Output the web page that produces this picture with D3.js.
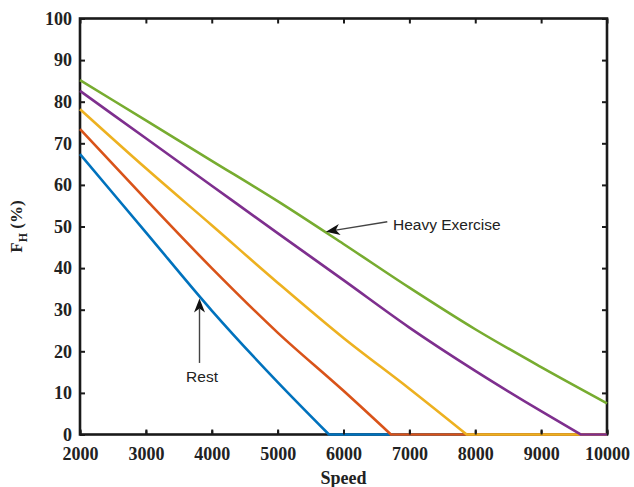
<!DOCTYPE html>
<html>
<head>
<meta charset="utf-8">
<script src="https://cdn.jsdelivr.net/npm/d3@7"></script>
<style>
  html, body { margin: 0; padding: 0; background: #fff; }
  svg { display: block; }
</style>
</head>
<body>
<svg id="chart" width="634" height="487"></svg>
<script>
// Fraction of heat-related output F_H (%) against speed, for five activity levels
const speedTicks = [2000, 3000, 4000, 5000, 6000, 7000, 8000, 9000, 10000];
const fhTicks = [0, 10, 20, 30, 40, 50, 60, 70, 80, 90, 100];

// Rest (lowest curve)
const restSpeed = [2000, 3000, 4000, 5000, 5780, 10000];
const restFH    = [67.4, 48.6, 29.8, 12.6, 0, 0];
// Light
const lightSpeed = [2000, 3000, 4000, 5000, 6000, 6720, 10000];
const lightFH    = [73.4, 56.5, 40.0, 24.5, 10.5, 0, 0];
// Moderate
const moderateSpeed = [2000, 3000, 4000, 5000, 6000, 7000, 7870, 10000];
const moderateFH    = [78.2, 64.0, 50.3, 36.5, 23.2, 11.0, 0, 0];
// Hard
const hardSpeed = [2000, 3000, 4000, 5000, 6000, 7000, 8000, 9000, 9600, 10000];
const hardFH    = [82.6, 71.2, 59.8, 48.4, 37.1, 25.7, 15.3, 5.6, 0, 0];
// Heavy exercise (highest curve)
const heavySpeed = [2000, 3000, 4000, 5000, 6000, 7000, 8000, 9000, 10000];
const heavyFH    = [85.2, 75.5, 65.8, 56.1, 45.8, 35.3, 25.3, 16.2, 7.5];

const seriesColors = ["#0072BD", "#D95319", "#EDB120", "#7E2F8E", "#77AC30"];

const svg = d3.select("#chart");
const plotLeft = 80, plotRight = 607, plotTop = 18.5, plotBottom = 434.5;

const x = d3.scaleLinear().domain([2000, 10000]).range([plotLeft, plotRight]);
const y = d3.scaleLinear().domain([0, 100]).range([plotBottom, plotTop]);

const tickFont = "'Liberation Serif', 'Times New Roman', serif";

// Frame box
svg.append("rect")
  .attr("x", plotLeft).attr("y", plotTop)
  .attr("width", plotRight - plotLeft).attr("height", plotBottom - plotTop)
  .attr("fill", "none").attr("stroke", "#1a1a1a").attr("stroke-width", 2.6);

// Axes with inward ticks, plus mirrored ticks on the top and right edges
function styleAxis(g) {
  g.select(".domain").remove();
  g.selectAll(".tick line").attr("stroke", "#1a1a1a").attr("stroke-width", 2);
  g.selectAll(".tick text")
    .attr("font-family", tickFont).attr("font-weight", "bold")
    .attr("font-size", 18).attr("fill", "#222");
}

svg.append("g").attr("transform", `translate(0,${plotBottom})`)
  .call(d3.axisBottom(x).tickValues(speedTicks).tickFormat(d3.format("d"))
    .tickSizeInner(-5).tickSizeOuter(0).tickPadding(13))
  .call(styleAxis);

svg.append("g").attr("transform", `translate(${plotLeft},0)`)
  .call(d3.axisLeft(y).tickValues(fhTicks).tickFormat(d3.format("d"))
    .tickSizeInner(-5).tickSizeOuter(0).tickPadding(8))
  .call(styleAxis);

svg.append("g").attr("transform", `translate(0,${plotTop})`)
  .call(d3.axisTop(x).tickValues(speedTicks).tickFormat("")
    .tickSizeInner(-5).tickSizeOuter(0))
  .call(styleAxis);

svg.append("g").attr("transform", `translate(${plotRight},0)`)
  .call(d3.axisRight(y).tickValues(fhTicks).tickFormat("")
    .tickSizeInner(-5).tickSizeOuter(0))
  .call(styleAxis);

// Curves: the falling part is smoothed, the part clipped at zero is kept straight
const smooth = d3.line()
  .x(d => x(d[0])).y(d => y(d[1]))
  .curve(d3.curveMonotoneX);

const series = [
  [restSpeed, restFH],
  [lightSpeed, lightFH],
  [moderateSpeed, moderateFH],
  [hardSpeed, hardFH],
  [heavySpeed, heavyFH]
];

series.forEach(([sp, fh], i) => {
  const pts = sp.map((s, k) => [s, fh[k]]);
  const zeroAt = fh.indexOf(0);
  const falling = zeroAt < 0 ? pts : pts.slice(0, zeroAt + 1);
  const flat = zeroAt < 0 ? [] : pts.slice(zeroAt + 1);
  let d = smooth(falling);
  flat.forEach(p => { d += `L${x(p[0])},${y(p[1])}`; });
  svg.append("path")
    .attr("d", d)
    .attr("fill", "none")
    .attr("stroke", seriesColors[i])
    .attr("stroke-width", 2.6)
    .attr("stroke-linejoin", "round");
});

// Re-draw the bottom tick marks on top so they show over the flat part of the curves
svg.append("g").attr("transform", `translate(0,${plotBottom})`)
  .call(d3.axisBottom(x).tickValues(speedTicks).tickFormat("")
    .tickSizeInner(-4).tickSizeOuter(0))
  .call(styleAxis);

// Axis titles
svg.append("text")
  .attr("x", (plotLeft + plotRight) / 2).attr("y", 484)
  .attr("text-anchor", "middle")
  .attr("font-family", tickFont).attr("font-weight", "bold")
  .attr("font-size", 18).attr("fill", "#222")
  .text("Speed");

const yTitle = svg.append("text")
  .attr("transform", `translate(22,${(plotTop + plotBottom) / 2}) rotate(-90)`)
  .attr("text-anchor", "middle")
  .attr("font-family", tickFont).attr("font-weight", "bold")
  .attr("font-size", 17).attr("fill", "#222");
yTitle.append("tspan").text("F");
yTitle.append("tspan").attr("font-size", 12).attr("dy", 5).text("H");
yTitle.append("tspan").attr("dy", -5).text(" (%)");

// Annotation arrows
function arrow(x1, y1, x2, y2) {
  const g = svg.append("g");
  const ang = Math.atan2(y2 - y1, x2 - x1);
  const len = 14, half = 5.5, notch = 4;
  const ux = Math.cos(ang), uy = Math.sin(ang);
  const px = -uy, py = ux;
  const bx = x2 - ux * len, by = y2 - uy * len;
  const nx = x2 - ux * (len - notch), ny = y2 - uy * (len - notch);
  g.append("line")
    .attr("x1", x1).attr("y1", y1).attr("x2", nx).attr("y2", ny)
    .attr("stroke", "#444").attr("stroke-width", 1.4);
  g.append("path")
    .attr("d", `M${x2},${y2}L${bx + px * half},${by + py * half}L${nx},${ny}L${bx - px * half},${by - py * half}Z`)
    .attr("fill", "#111");
}

const labelFont = "'Liberation Sans', Arial, sans-serif";

// Heavy exercise note
arrow(x(6665), y(51.15), x(5733), y(48.75));
svg.append("text")
  .attr("x", x(6751)).attr("y", y(49.2))
  .attr("font-family", labelFont).attr("font-size", 15.5).attr("fill", "#222")
  .text("Heavy Exercise");

// Rest note
arrow(x(3814), y(17.2), x(3814), y(32.7));
svg.append("text")
  .attr("x", x(3852)).attr("y", y(12.6))
  .attr("text-anchor", "middle")
  .attr("font-family", labelFont).attr("font-size", 15.5).attr("fill", "#222")
  .text("Rest");
</script>
</body>
</html>
